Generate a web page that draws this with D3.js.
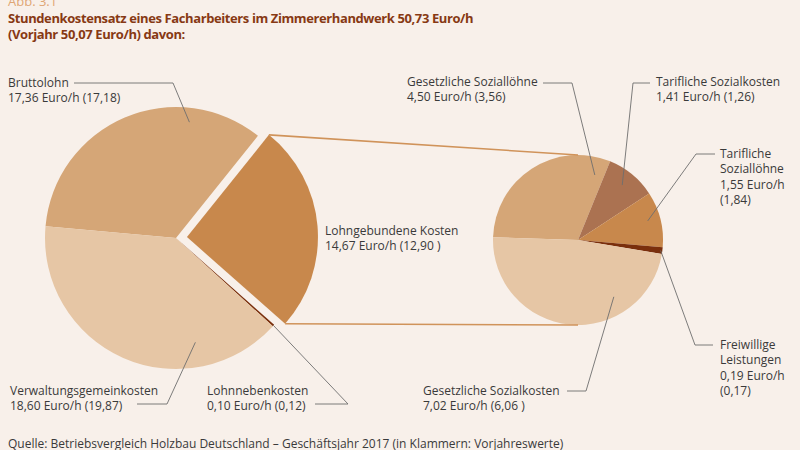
<!DOCTYPE html>
<html><head><meta charset="utf-8">
<script src="https://cdn.jsdelivr.net/npm/d3@7"></script>
<style>
body{margin:0;background:#f8f0ea;}
svg{display:block;}
text{font-family:"Open Sans",sans-serif;}
</style>
</head><body><svg id="c" width="800" height="450"></svg>
<script>
// ---- data (Euro/h; current year and previous year in brackets) ----
const leftCategories = ["Bruttolohn", "Lohngebundene Kosten", "Lohnnebenkosten", "Verwaltungsgemeinkosten"];
const leftValues = [17.36, 14.67, 0.10, 18.60];
const leftPrevValues = [17.18, 12.90, 0.12, 19.87];
const rightCategories = ["Gesetzliche Soziallöhne", "Tarifliche Sozialkosten", "Tarifliche Soziallöhne", "Freiwillige Leistungen", "Gesetzliche Sozialkosten"];
const rightValues = [4.50, 1.41, 1.55, 0.19, 7.02];
const rightPrevValues = [3.56, 1.26, 1.84, 0.17, 6.06];
const totalValue = 50.73;
const totalPrevValue = 50.07;

// ---- styles ----
const leftColors = ["#d5a677", "#c8884c", "#7a2f0c", "#e6c6a5"];
const rightColors = ["#d5a677", "#ab7251", "#c8884c", "#7a2f0c", "#e6c6a5"];
const textColor = "#3a3a3a", leaderColor = "#6e6e6e", connColor = "#d0935a";

const de = d3.formatLocale({decimal: ",", thousands: ".", grouping: [3], currency: ["", " €"]});
const f2 = de.format(".2f");
const rad = d => d * Math.PI / 180;

const svg = d3.select("#c");
svg.append("rect").attr("width", 800).attr("height", 450).attr("fill", "#f8f0ea");

// titles
svg.append("text").attr("x", 8).attr("y", 6).attr("fill", "#dfa674").style("font-size", "13px").text("Abb. 3.1");
svg.append("text").attr("x", 8).attr("y", 23).attr("fill", "#873914").style("font-size", "13px").style("font-weight", "700")
  .style("letter-spacing", "-0.4px")
  .text(`Stundenkostensatz eines Facharbeiters im Zimmererhandwerk ${f2(totalValue)} Euro/h`);
svg.append("text").attr("x", 8).attr("y", 39).attr("fill", "#873914").style("font-size", "13px").style("font-weight", "700")
  .style("letter-spacing", "-0.4px")
  .text(`(Vorjahr ${f2(totalPrevValue)} Euro/h) davon:`);
svg.append("text").attr("x", 8).attr("y", 448).attr("fill", textColor).style("font-size", "12px")
  .text("Quelle: Betriebsvergleich Holzbau Deutschland – Geschäftsjahr 2017 (in Klammern: Vorjahreswerte)");

// ---- geometry ----
const L = {cx: 176, cy: 238, r: 131, start: rad(-84.8), explode: 1, offset: 11};
const R = {cx: 578, cy: 240, r: 85, start: rad(-88.2)};

const polar = (cx, cy, a, r) => [cx + r * Math.sin(a), cy - r * Math.cos(a)];

// left pie (slice angles as drawn in the reference)
const leftPie = d3.pie().sort(null).value(d => d).startAngle(L.start).endAngle(L.start + 2 * Math.PI)(leftPrevValues);
const leftArc = d3.arc().innerRadius(0).outerRadius(L.r);
const lg = svg.append("g");
leftPie.forEach((s, i) => {
  const mid = (s.startAngle + s.endAngle) / 2;
  const off = i === L.explode ? L.offset : 0;
  s.ox = L.cx + off * Math.sin(mid);
  s.oy = L.cy - off * Math.cos(mid);
  lg.append("path").attr("d", leftArc(s)).attr("transform", `translate(${s.ox},${s.oy})`).attr("fill", leftColors[i]);
});

// right pie
const rightPie = d3.pie().sort(null).value(d => d).startAngle(R.start).endAngle(R.start + 2 * Math.PI)(rightValues);
const rightArc = d3.arc().innerRadius(0).outerRadius(R.r);
const rg = svg.append("g").attr("transform", `translate(${R.cx},${R.cy})`);
rightPie.forEach((s, i) => rg.append("path").attr("d", rightArc(s)).attr("fill", rightColors[i]));

// connectors from exploded slice to the right pie
const ex = leftPie[L.explode];
const c1 = polar(ex.ox, ex.oy, ex.startAngle, L.r);
const c2 = polar(ex.ox, ex.oy, ex.endAngle, L.r);
svg.append("line").attr("x1", c1[0]).attr("y1", c1[1]).attr("x2", R.cx).attr("y2", R.cy - R.r)
  .attr("stroke", connColor).attr("stroke-width", 1.6);
svg.append("line").attr("x1", c2[0]).attr("y1", c2[1]).attr("x2", R.cx).attr("y2", R.cy + R.r)
  .attr("stroke", connColor).attr("stroke-width", 1.6);

// ---- labels ----
const valLine = (v, p, pad) => `${f2(v)} Euro/h (${f2(p)}${pad ? " " : ""})`;
const leftLabels = [
  {x: 8, y: 87, lines: [leftCategories[0], valLine(leftValues[0], leftPrevValues[0])], elbow: [[74, 83], [173, 83]], t: 0.74, k: 0.89},
  {x: 325, y: 235, lines: [leftCategories[1], valLine(leftValues[1], leftPrevValues[1], true)]},
  {x: 207, y: 395, lines: [leftCategories[2], valLine(leftValues[2], leftPrevValues[2])], elbow: [[315, 404], [348, 404]], t: 0.5, k: 1.0},
  {x: 10, y: 395, lines: [leftCategories[3], valLine(leftValues[3], leftPrevValues[3])], elbow: [[137, 404], [167, 404]], t: 0.26, k: 0.81}
];
const rightLabels = [
  {x: 407, y: 86, lines: [rightCategories[0], valLine(rightValues[0], rightPrevValues[0])], elbow: [[543, 83], [572, 83]], t: 0.93, k: 0.79},
  {x: 656, y: 86, lines: [rightCategories[1], valLine(rightValues[1], rightPrevValues[1])], elbow: [[650, 83], [633, 83]], t: 0.48, k: 0.83},
  {x: 720, y: 158, lh: 15.3, lines: ["Tarifliche", "Soziallöhne", `${f2(rightValues[2])} Euro/h`, `(${f2(rightPrevValues[2])})`], elbow: [[715, 154], [696, 154]], t: 0.47, k: 0.85},
  {x: 720, y: 349, lh: 15.3, lines: ["Freiwillige", "Leistungen", `${f2(rightValues[3])} Euro/h`, `(${f2(rightPrevValues[3])})`], elbow: [[713, 345], [695, 345]], t: 0.5, k: 0.98},
  {x: 423, y: 395, lines: [rightCategories[4], valLine(rightValues[4], rightPrevValues[4], true)], elbow: [[567, 391], [586, 391]], t: 0.28, k: 0.79}
];

function drawLabels(labels, slices, cxFn, r) {
  labels.forEach((lb, i) => {
    const s = slices[i];
    const t = svg.append("text").attr("fill", textColor).style("font-size", "12px");
    lb.lines.forEach((ln, j) => t.append("tspan").attr("x", lb.x).attr("y", lb.y + j * (lb.lh || 14.5)).text(ln));
    if (lb.elbow) {
      const a = s.startAngle + lb.t * (s.endAngle - s.startAngle);
      const [ox, oy] = cxFn(s);
      const end = polar(ox, oy, a, lb.k * r);
      svg.append("path").attr("d", d3.line()([...lb.elbow, end])).attr("fill", "none")
        .attr("stroke", leaderColor).attr("stroke-width", 0.9);
    }
  });
}
drawLabels(leftLabels, leftPie, s => [s.ox, s.oy], L.r);
drawLabels(rightLabels, rightPie, () => [R.cx, R.cy], R.r);
</script>
</body></html>
